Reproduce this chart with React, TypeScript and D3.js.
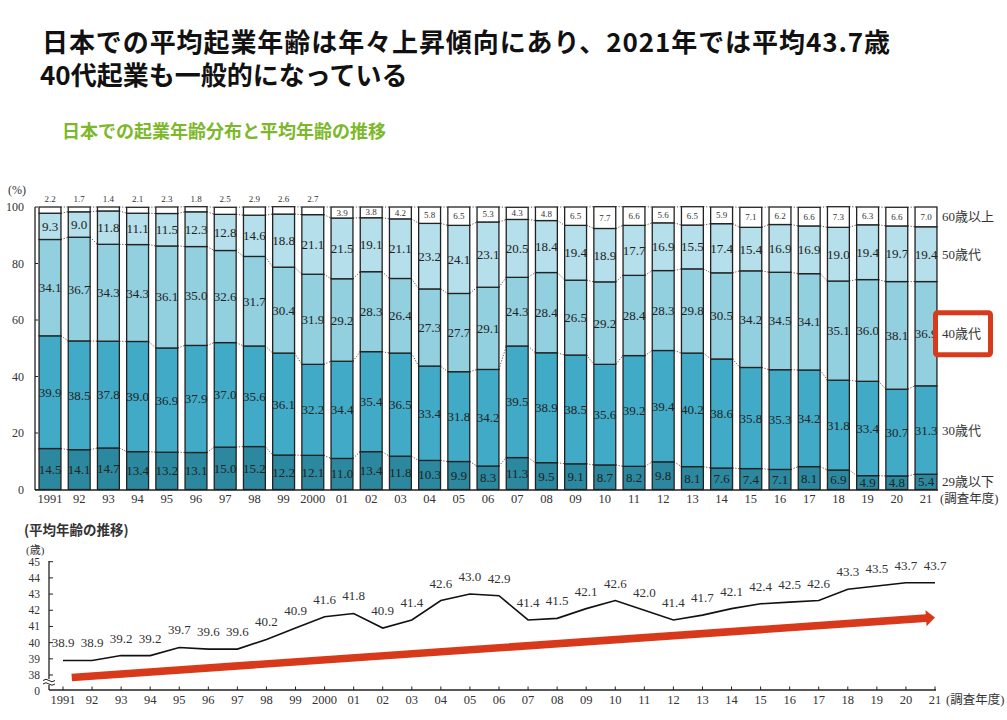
import * as d3 from "d3";

// survey years (tick labels)
const yearLabels = [
  "1991", "92", "93", "94", "95", "96", "97", "98", "99", "2000",
  "01", "02", "03", "04", "05", "06", "07", "08", "09", "10",
  "11", "12", "13", "14", "15", "16", "17", "18", "19", "20", "21",
];

// age distribution of founders (%)
const under29 = [14.5, 14.1, 14.7, 13.4, 13.2, 13.1, 15.0, 15.2, 12.2, 12.1, 11.0, 13.4, 11.8, 10.3, 9.9, 8.3, 11.3, 9.5, 9.1, 8.7, 8.2, 9.8, 8.1, 7.6, 7.4, 7.1, 8.1, 6.9, 4.9, 4.8, 5.4];
const thirties = [39.9, 38.5, 37.8, 39.0, 36.9, 37.9, 37.0, 35.6, 36.1, 32.2, 34.4, 35.4, 36.5, 33.4, 31.8, 34.2, 39.5, 38.9, 38.5, 35.6, 39.2, 39.4, 40.2, 38.6, 35.8, 35.3, 34.2, 31.8, 33.4, 30.7, 31.3];
const forties = [34.1, 36.7, 34.3, 34.3, 36.1, 35.0, 32.6, 31.7, 30.4, 31.9, 29.2, 28.3, 26.4, 27.3, 27.7, 29.1, 24.3, 28.4, 26.5, 29.2, 28.4, 28.3, 29.8, 30.5, 34.2, 34.5, 34.1, 35.1, 36.0, 38.1, 36.9];
const fifties = [9.3, 9.0, 11.8, 11.1, 11.5, 12.3, 12.8, 14.6, 18.8, 21.1, 21.5, 19.1, 21.1, 23.2, 24.1, 23.1, 20.5, 18.4, 19.4, 18.9, 17.7, 16.9, 15.5, 17.4, 15.4, 16.9, 16.9, 19.0, 19.4, 19.7, 19.4];
const over60 = [2.2, 1.7, 1.4, 2.1, 2.3, 1.8, 2.5, 2.9, 2.6, 2.7, 3.9, 3.8, 4.2, 5.8, 6.5, 5.3, 4.3, 4.8, 6.5, 7.7, 6.6, 5.6, 6.5, 5.9, 7.1, 6.2, 6.6, 7.3, 6.3, 6.6, 7.0];

const groupKeys = ["u29", "s30", "s40", "s50", "o60"];
const groupNames = ["29歳以下", "30歳代", "40歳代", "50歳代", "60歳以上"];
const groupColors = ["#2b889f", "#41abc7", "#92cfdf", "#b5dfea", "#ffffff"];
const barTicks = [0, 20, 40, 60, 80, 100];

// average founder age (歳)
const avgAge = [38.9, 38.9, 39.2, 39.2, 39.7, 39.6, 39.6, 40.2, 40.9, 41.6, 41.8, 40.9, 41.4, 42.6, 43.0, 42.9, 41.4, 41.5, 42.1, 42.6, 42.0, 41.4, 41.7, 42.1, 42.4, 42.5, 42.6, 43.3, 43.5, 43.7, 43.7];
const ageTicks = [38, 39, 40, 41, 42, 43, 44, 45];
// trend arrow, in (year, age) units
const trendFrom = [1991.3, 37.85];
const trendTo = [2021, 41.55];

const SERIF = "'Liberation Serif', 'DejaVu Serif', 'Noto Sans CJK JP', serif";
const GOTHIC = "'Noto Sans CJK JP', 'Noto Sans', sans-serif";
const INK = "#333";

function BarChart() {
  const x = d3.scaleBand<string>().domain(yearLabels).range([35.4, 940.6]).paddingInner(0.25).paddingOuter(0.125);
  const y = d3.scaleLinear().domain([0, 100]).range([489.5, 207]);
  const bw = x.bandwidth();

  const rows = yearLabels.map((yr, i) => ({
    year: yr, u29: under29[i], s30: thirties[i], s40: forties[i], s50: fifties[i], o60: over60[i],
  }));
  const series = d3.stack<any>().keys(groupKeys)(rows);
  const last = rows.length - 1;

  return (
    <g>
      <text x={8} y={194} fontFamily={SERIF} fontSize={12} fill={INK}>(%)</text>
      {barTicks.map((t) => (
        <g key={t}>
          <text x={24} y={y(t) + 4} textAnchor="end" fontFamily={SERIF} fontSize={12} fill={INK}>{t}</text>
          <line x1={35} x2={38} y1={y(t)} y2={y(t)} stroke="#222" />
        </g>
      ))}

      {/* dotted connectors between bars */}
      {series.map((s, k) =>
        s.slice(0, -1).map((d, i) => (
          <line
            key={`c${k}-${i}`}
            x1={x(yearLabels[i])! + bw}
            x2={x(yearLabels[i + 1])!}
            y1={y(d[1])}
            y2={y(s[i + 1][1])}
            stroke="#555"
            strokeWidth={1}
            strokeDasharray="1.2,1.6"
          />
        ))
      )}

      {series.map((s, k) =>
        s.map((d, i) => (
          <rect
            key={`r${k}-${i}`}
            x={x(yearLabels[i])}
            y={y(d[1])}
            width={bw}
            height={y(d[0]) - y(d[1])}
            fill={groupColors[k]}
            stroke="#222"
            strokeWidth={1.3}
          />
        ))
      )}

      {series.map((s, k) =>
        s.map((d, i) => {
          const v = (d.data as any)[groupKeys[k]] as number;
          const cx = x(yearLabels[i])! + bw / 2;
          if (k === 4) {
            const above = v < 3;
            return (
              <text key={`t${k}-${i}`} x={cx} y={above ? y(100) - 5 : y((d[0] + d[1]) / 2) + 3}
                textAnchor="middle" fontFamily={SERIF} fontSize={9} fill={INK}>{v.toFixed(1)}</text>
            );
          }
          return (
            <text key={`t${k}-${i}`} x={cx} y={y((d[0] + d[1]) / 2) + 4.5}
              textAnchor="middle" fontFamily={SERIF} fontSize={13} fill="#222">{v.toFixed(1)}</text>
          );
        })
      )}

      <line x1={35} x2={35} y1={207} y2={490} stroke="#222" strokeWidth={1.3} />
      <line x1={35} x2={938} y1={490} y2={490} stroke="#222" strokeWidth={1.3} />
      {yearLabels.map((yr) => (
        <text key={yr} x={x(yr)! + bw / 2} y={503} textAnchor="middle" fontFamily={SERIF} fontSize={12.5} fill={INK}>{yr}</text>
      ))}
      <text x={940} y={503} fontFamily={SERIF} fontSize={12.5} fill={INK}>(調査年度)</text>

      {/* group labels at the right, next to the last bar */}
      {series.map((s, k) => {
        const yy = y((s[last][0] + s[last][1]) / 2);
        return (
          <g key={`g${k}`}>
            {k === 2 && (
              <rect x={935.5} y={yy - 21} width={55} height={42} rx={2} fill="#fff" stroke="#d83b1b" strokeWidth={5} />
            )}
            <text x={942} y={yy + 4.5} fontFamily={SERIF} fontSize={13} fill={INK}>{groupNames[k]}</text>
          </g>
        );
      })}
    </g>
  );
}

function AgeChart() {
  const x = d3.scalePoint<string>().domain(yearLabels).range([63, 935]);
  const xn = d3.scaleLinear().domain([1991, 2021]).range([63, 935]);
  const y = d3.scaleLinear().domain([38, 45]).range([675, 561.7]);
  const y0 = 691;

  const path = d3.line<number>((_, i) => x(yearLabels[i])!, (v) => y(v))(avgAge);

  // arrow polygon
  const ax0 = xn(trendFrom[0]), ay0 = y(trendFrom[1]);
  const ax1 = xn(trendTo[0]), ay1 = y(trendTo[1]);
  const len = Math.hypot(ax1 - ax0, ay1 - ay0);
  const ux = (ax1 - ax0) / len, uy = (ay1 - ay0) / len;
  const nx = -uy, ny = ux;
  const sw = 3.8, hw = 8, hl = 9;
  const bx = ax1 - ux * hl, by = ay1 - uy * hl;
  const pts = [
    [ax0 + nx * sw, ay0 + ny * sw],
    [bx + nx * sw, by + ny * sw],
    [bx + nx * hw, by + ny * hw],
    [ax1, ay1],
    [bx - nx * hw, by - ny * hw],
    [bx - nx * sw, by - ny * sw],
    [ax0 - nx * sw, ay0 - ny * sw],
  ];

  return (
    <g>
      <text x={24} y={535} fontFamily={GOTHIC} fontWeight="bold" fontSize={13.5} fill={INK}>(平均年齢の推移)</text>
      <text x={26} y={554} fontFamily={SERIF} fontSize={11} fill={INK}>(歳)</text>

      {ageTicks.map((t) => (
        <g key={t}>
          <text x={40} y={y(t) + 4} textAnchor="end" fontFamily={SERIF} fontSize={11.5} fill={INK}>{t}</text>
          <line x1={49} x2={53} y1={y(t)} y2={y(t)} stroke="#222" />
        </g>
      ))}
      <text x={40} y={y0 + 4} textAnchor="end" fontFamily={SERIF} fontSize={11.5} fill={INK}>0</text>
      <line x1={49} x2={49} y1={561} y2={690} stroke="#222" strokeWidth={1.3} />
      <rect x={43} y={679} width={12} height={6} fill="#fff" />
      <path d="M43,680.5 q3,-2.5 6,0 t6,0 M43,684 q3,-2.5 6,0 t6,0" fill="none" stroke="#222" strokeWidth={1} />

      <line x1={49} x2={936} y1={690} y2={690} stroke="#222" strokeWidth={1.3} />
      {yearLabels.map((yr) => (
        <g key={yr}>
          <line x1={x(yr)} x2={x(yr)} y1={686.5} y2={690} stroke="#222" />
          <text x={x(yr)} y={703.5} textAnchor="middle" fontFamily={SERIF} fontSize={12.5} fill={INK}>{yr}</text>
        </g>
      ))}
      <text x={946} y={703.5} fontFamily={SERIF} fontSize={12.5} fill={INK}>(調査年度)</text>

      <polygon points={pts.map((p) => p.join(",")).join(" ")} fill="#d9391b" />
      {path && <path d={path} fill="none" stroke="#111" strokeWidth={1.6} />}
      {avgAge.map((v, i) => (
        <text key={i} x={x(yearLabels[i])} y={y(v) - 13} textAnchor="middle" fontFamily={SERIF} fontSize={13} fill={INK}>
          {v.toFixed(1)}
        </text>
      ))}
    </g>
  );
}

export default function App() {
  return (
    <svg width={1007} height={720} style={{ position: "absolute", left: 0, top: 0, display: "block", background: "#fff" }}>
      <text x={42} y={52} fontFamily={GOTHIC} fontWeight="bold" fontSize={26} fill="#111" textLength={848} lengthAdjust="spacing">
        日本での平均起業年齢は年々上昇傾向にあり、2021年では平均43.7歳
      </text>
      <text x={40} y={85} fontFamily={GOTHIC} fontWeight="bold" fontSize={26} fill="#111">
        40代起業も一般的になっている
      </text>
      <text x={62} y={138} fontFamily={GOTHIC} fontWeight="bold" fontSize={18} fill="#7cb82a">
        日本での起業年齢分布と平均年齢の推移
      </text>
      <BarChart />
      <AgeChart />
    </svg>
  );
}
